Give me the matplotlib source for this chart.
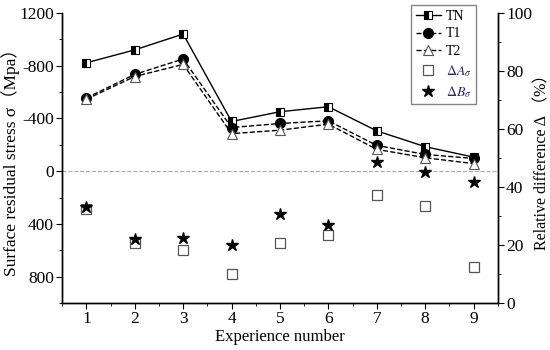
import numpy as np
import matplotlib.pyplot as plt
from matplotlib.ticker import MultipleLocator, FixedLocator

plt.rcParams['font.family'] = ['Liberation Serif', 'DejaVu Serif']
plt.rcParams['mathtext.fontset'] = 'stix'

exp = [1, 2, 3, 4, 5, 6, 7, 8, 9]
TN = [-822, -920, -1040, -377, -451, -489, -306, -186, -107]
T1 = [-556, -734, -851, -331, -362, -382, -196, -127, -97]
T2 = [-546, -718, -810, -285, -311, -357, -166, -102, -58]
dA = [32.6, 20.8, 18.3, 10.2, 20.6, 23.4, 37.2, 33.6, 12.3]
dB = [33.2, 22.0, 22.5, 20.0, 30.6, 26.9, 48.7, 45.1, 41.8]

fig = plt.figure(figsize=(5.5, 3.5), dpi=100)
ax = fig.add_axes([0.113, 0.134, 0.792, 0.829])
ax2 = ax.twinx()

ax.axhline(0, color='#aaaaaa', lw=0.8, ls='--', zorder=0)
l1, = ax.plot(exp, TN, '-', color='black', lw=1, marker='s', ms=6,
              fillstyle='left', mfc='black', mfcalt='white', mec='black', mew=0.8, label='TN')
l2, = ax.plot(exp, T1, '--', color='black', lw=1, marker='o', ms=7,
              mfc='black', mec='black', label='T1')
l3, = ax.plot(exp, T2, '--', color='black', lw=1, marker='^', ms=7,
              mfc='white', mec='#555555', mew=0.8, label='T2')
l4, = ax2.plot(exp, dA, ls='none', marker='s', ms=7, mfc='white',
               mec='#555555', mew=0.9, label=r'$\mathit{\Delta A_{\sigma}}$')
l5, = ax2.plot(exp, dB, ls='none', marker='*', ms=9, mfc='black',
               mec='black', label=r'$\mathit{\Delta B_{\sigma}}$')

ax.set_xlim(0.5, 9.5)
ax.set_ylim(1000, -1200)
ax2.set_ylim(0, 100)
ax.set_xticks(exp)
ax.xaxis.set_minor_locator(MultipleLocator(0.5))
ax.yaxis.set_major_locator(FixedLocator([-1200, -800, -400, 0, 400, 800]))
ax.set_yticklabels(['1200', '-800', '-400', '0', '400', '800'])
ax.yaxis.set_minor_locator(MultipleLocator(200))
ax2.yaxis.set_major_locator(MultipleLocator(20))
ax2.yaxis.set_minor_locator(MultipleLocator(10))

for a in (ax, ax2):
    a.spines['top'].set_visible(False)
    for s in a.spines.values():
        s.set_linewidth(1)
    a.tick_params(which='major', length=4, labelsize=12.5, direction='out', pad=2)
    a.tick_params(which='minor', length=2, direction='out')

ax.set_xlabel('Experience number', fontsize=12, labelpad=1)
ax.set_ylabel('Surface residual stress σ（Mpa）', fontsize=12.5,
              family=['Liberation Serif', 'Noto Sans CJK SC'])
ax.yaxis.set_label_coords(-0.096, 0.5)
ax2.set_ylabel('Relative difference Δ （%）', fontsize=11.5,
               family=['Liberation Serif', 'Noto Sans CJK SC'], rotation=90)
ax2.yaxis.set_label_coords(1.085, 0.5)

leg = ax.legend(handles=[l1, l2, l3, l4, l5], loc='upper left',
                bbox_to_anchor=(0.786, 1.05), fontsize=10, frameon=True,
                fancybox=False, edgecolor='#666666', borderpad=0.3,
                labelspacing=0.35, handlelength=1.8, handletextpad=0.4)
leg.get_frame().set_linewidth(1)
for t in leg.get_texts()[3:]:
    t.set_color('#2a2a6a')

fig.savefig('out.png', dpi=100)
